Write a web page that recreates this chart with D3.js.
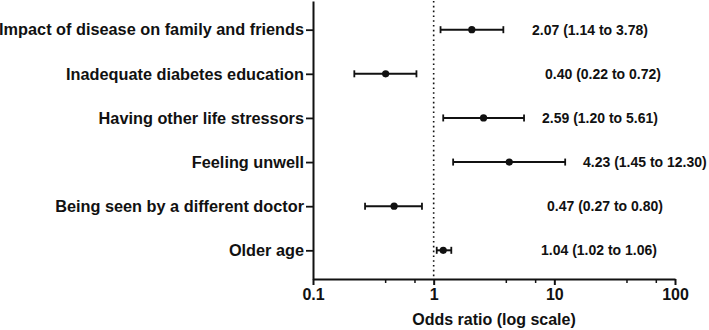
<!DOCTYPE html>
<html>
<head>
<meta charset="utf-8">
<script src="https://cdn.jsdelivr.net/npm/d3@7"></script>
<style>
  html, body { margin: 0; padding: 0; background: #fff; }
  svg { display: block; font-family: "Liberation Sans", Arial, sans-serif; font-weight: bold; }
</style>
</head>
<body>
<div id="chart"></div>
<script>
// categories top to bottom
const factors = [
  "Impact of disease on family and friends",
  "Inadequate diabetes education",
  "Having other life stressors",
  "Feeling unwell",
  "Being seen by a different doctor",
  "Older age"
];
// plotted odds ratios and 95% CI (as drawn)
const oddsRatio = [2.07, 0.40, 2.59, 4.23, 0.47, 1.2];
const ciLow = [1.14, 0.22, 1.20, 1.45, 0.27, 1.06];
const ciHigh = [3.78, 0.72, 5.61, 12.30, 0.80, 1.4];
// printed estimates
const estLabels = [
  "2.07 (1.14 to 3.78)",
  "0.40 (0.22 to 0.72)",
  "2.59 (1.20 to 5.61)",
  "4.23 (1.45 to 12.30)",
  "0.47 (0.27 to 0.80)",
  "1.04 (1.02 to 1.06)"
];
const majorTicks = [0.1, 1, 10, 100];
const minorTicks = [0.4, 0.7, 4, 7, 40, 70];

const W = 709, H = 330;
const margin = { top: 1, right: 34, bottom: 51, left: 313 };
const width = W - margin.left - margin.right;
const height = H - margin.top - margin.bottom;

// where the estimate text starts (px from plot left)
const estX = [219, 232, 229, 270, 234, 228];

const svg = d3.select("#chart").append("svg")
  .attr("width", W)
  .attr("height", H);

const g = svg.append("g")
  .attr("transform", `translate(${margin.left},${margin.top})`);

const x = d3.scaleLog().domain([0.1, 100]).range([0, width]);
const y = d3.scalePoint().domain(factors).range([0, height]).padding(0.65);

const rows = factors.map((f, i) => ({
  f, or: oddsRatio[i], lo: ciLow[i], hi: ciHigh[i], label: estLabels[i], lx: estX[i]
}));

// reference line at OR = 1
g.append("line")
  .attr("x1", x(1)).attr("x2", x(1))
  .attr("y1", 0).attr("y2", height)
  .attr("stroke", "#111")
  .attr("stroke-width", 1.6)
  .attr("stroke-dasharray", "1.6 3.2");

// x axis
const xAxis = g.append("g")
  .attr("transform", `translate(0,${height})`)
  .call(d3.axisBottom(x).tickValues(majorTicks).tickFormat(d3.format("~g")).tickSize(6).tickSizeOuter(0));
xAxis.select(".domain").attr("stroke", "#111").attr("stroke-width", 2);
xAxis.selectAll(".tick line").attr("stroke", "#111").attr("stroke-width", 2);
xAxis.selectAll(".tick text")
  .attr("font-size", 16).attr("font-weight", "bold").attr("font-family", "Liberation Sans, Arial, sans-serif")
  .attr("fill", "#111").attr("y", 10);

g.append("g")
  .attr("transform", `translate(0,${height})`)
  .selectAll("line")
  .data(minorTicks)
  .join("line")
  .attr("x1", d => x(d)).attr("x2", d => x(d))
  .attr("y1", 0).attr("y2", 4)
  .attr("stroke", "#111").attr("stroke-width", 1.5);

// y axis
const yAxis = g.append("g")
  .call(d3.axisLeft(y).tickSize(7).tickSizeOuter(0).tickPadding(2));
yAxis.select(".domain").attr("stroke", "#111").attr("stroke-width", 2);
yAxis.selectAll(".tick line").attr("stroke", "#111").attr("stroke-width", 1.8);
yAxis.selectAll(".tick text")
  .attr("font-size", 16.3).attr("font-weight", "bold").attr("font-family", "Liberation Sans, Arial, sans-serif")
  .attr("fill", "#111");

// error bars
const bars = g.append("g").selectAll("g")
  .data(rows)
  .join("g")
  .attr("transform", d => `translate(0,${y(d.f)})`);

bars.append("line")
  .attr("x1", d => x(d.lo)).attr("x2", d => x(d.hi))
  .attr("stroke", "#111").attr("stroke-width", 2);

bars.selectAll(".cap")
  .data(d => [d.lo, d.hi])
  .join("line")
  .attr("class", "cap")
  .attr("x1", v => x(v)).attr("x2", v => x(v))
  .attr("y1", -3.5).attr("y2", 3.5)
  .attr("stroke", "#111").attr("stroke-width", 1.8);

bars.append("circle")
  .attr("cx", d => x(d.or))
  .attr("r", 3.6)
  .attr("fill", "#111");

bars.append("text")
  .attr("x", d => d.lx)
  .attr("dy", "0.36em")
  .attr("font-size", 14)
  .attr("fill", "#111")
  .text(d => d.label);

// axis title
g.append("text")
  .attr("x", width / 2)
  .attr("y", height + 46)
  .attr("text-anchor", "middle")
  .attr("font-size", 16)
  .attr("fill", "#111")
  .text("Odds ratio (log scale)");
</script>
</body>
</html>
